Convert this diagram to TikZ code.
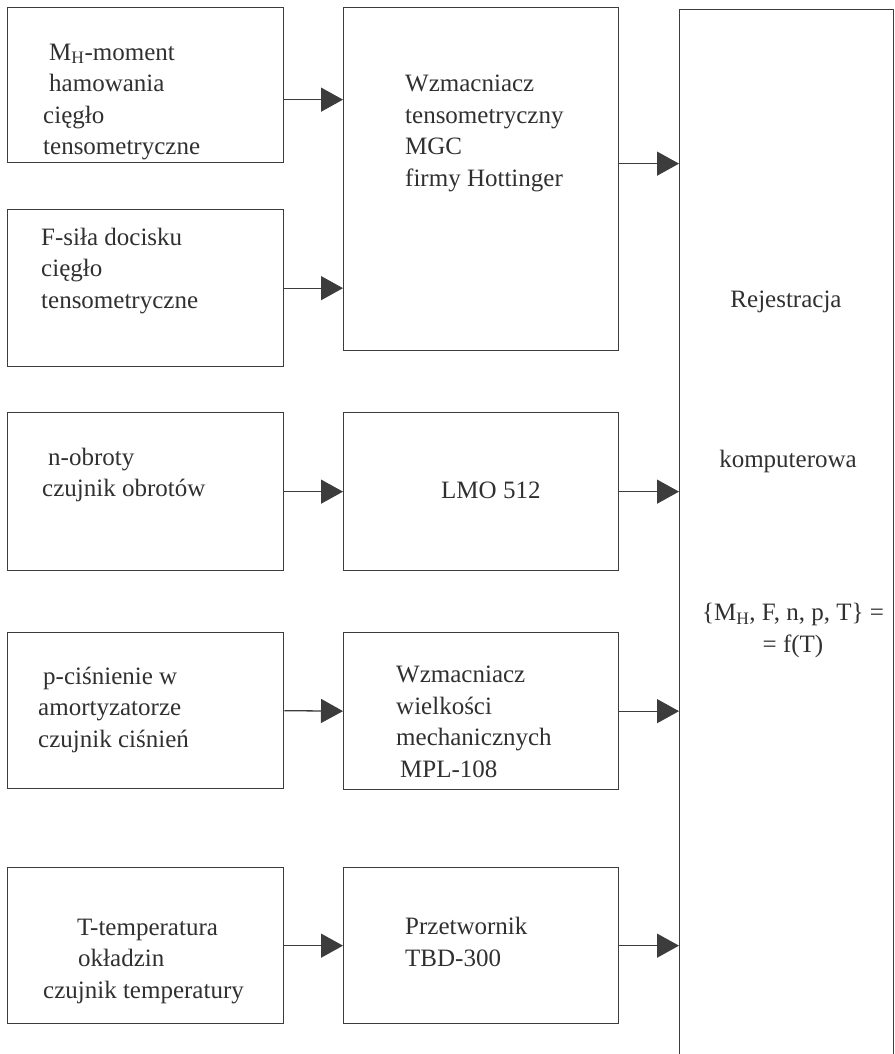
\documentclass[tikz,border=0pt]{standalone}
\usepackage{fontspec}
\setmainfont{Liberation Serif}
\usepackage{tikz}
\usetikzlibrary{positioning,calc,arrows.meta}
\definecolor{ink}{HTML}{3C3C3C}
\definecolor{txtgray}{HTML}{303030}

\begin{document}
\begin{tikzpicture}[x=1pt, y=-1pt,
    box/.style={draw=ink, line width=1.3pt, anchor=north west, inner sep=0pt},
    txt/.style={text=txtgray, anchor=base west, align=left, inner sep=0pt,
        font=\fontsize{25}{31.5}\selectfont},
    ctxt/.style={txt, anchor=base, align=center},
    sig/.style={draw=ink, line width=1.3pt, -{Triangle[length=22pt, width=24pt]}}]
    \useasboundingbox (0,0) rectangle (894,1054);

    % czujniki
    \node[box, minimum width=276pt, minimum height=155pt] (mh) at (7,7) {};
    \node[box, minimum width=276pt, minimum height=157pt] (f) at (7,209) {};
    \node[box, minimum width=276pt, minimum height=158pt] (n) at (7,412) {};
    \node[box, minimum width=276pt, minimum height=156pt] (p) at (7,632) {};
    \node[box, minimum width=276pt, minimum height=156pt] (t) at (7,867) {};

    % wzmacniacze
    \node[box, minimum width=275pt, minimum height=343pt] (mgc) at (343,7) {};
    \node[box, minimum width=275pt, minimum height=158pt] (lmo) at (343,412) {};
    \node[box, minimum width=275pt, minimum height=157pt] (mpl) at (343,632) {};
    \node[box, minimum width=275pt, minimum height=156pt] (tbd) at (343,867) {};

    % rejestracja
    \node[box, minimum width=214pt, minimum height=1100pt] (reg) at (679,9) {};

    % teksty (base = ostatnia linia)
    \node[txt] (mhtxt) at (43,154.5) {\hspace*{6pt}M\textsubscript{H}-moment\\ \hspace*{6pt}hamowania\\ cięgło\\ tensometryczne};
    \node[txt] (ftxt) at (41,308) {F-siła docisku\\ cięgło\\ tensometryczne};
    \node[txt] (ntxt) at (42,496.5) {\hspace*{6pt}n-obroty\\ czujnik obrotów};
    \node[txt] (ptxt) at (38,747) {\hspace*{5pt}p-ciśnienie w\\ amortyzatorze\\ czujnik ciśnień};
    \node[txt] (ttxt) at (43,998) {\hspace*{34pt}T-temperatura\\ \hspace*{35pt}okładzin\\ czujnik temperatury};

    \node[txt] (mgctxt) at (405,186) {Wzmacniacz\\ tensometryczny\\ MGC\\ firmy Hottinger};
    \node[txt] (lmotxt) at (441,498) {LMO 512};
    \node[txt] (mpltxt) at (396,777) {Wzmacniacz\\ wielkości\\ mechanicznych\\ \hspace*{4pt}MPL-108};
    \node[txt] (tbdtxt) at (405,966) {Przetwornik\\ TBD-300};

    \node[ctxt] (rej) at (786,307) {Rejestracja};
    \node[ctxt] (komp) at (788,467) {komputerowa};
    \node[ctxt] (fun) at (793,652) {\{M\textsubscript{H}, F, n, p, T\} =\\ = f(T)};

    % sygnaly
    \draw[sig] ([yshift=-14.5pt]mh.east) -- ([yshift=-14.5pt]mh.east -| mgc.west);
    \draw[sig] (f.east) -- (f.east -| mgc.west);
    \draw[sig] ([yshift=15.5pt]mgc.east) -- ([yshift=15.5pt]mgc.east -| reg.west);
    \draw[sig] (n.east) -- (lmo.west);
    \draw[sig] (lmo.east) -- (lmo.east -| reg.west);
    \draw[sig] (p.east) -- (mpl.west);
    \draw[sig] (mpl.east) -- (mpl.east -| reg.west);
    \draw[sig] (t.east) -- (tbd.west);
    \draw[sig] (tbd.east) -- (tbd.east -| reg.west);
\end{tikzpicture}
\end{document}
